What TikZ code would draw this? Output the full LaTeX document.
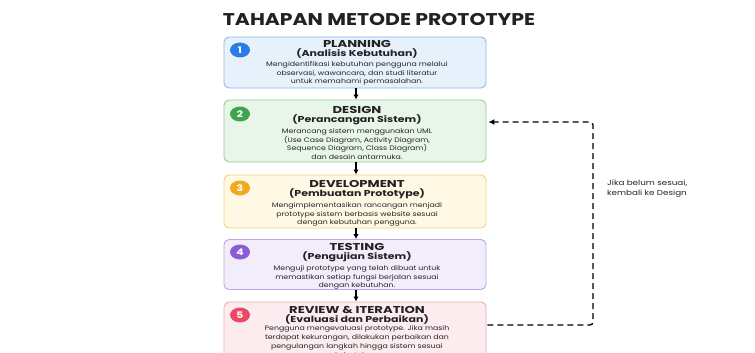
\documentclass[tikz,border=0pt]{standalone}
\usepackage{fontspec}
\usepackage{graphicx}
\setmainfont{Poppins}
\usetikzlibrary{arrows.meta,shapes.geometric}

\definecolor{blueFill}{HTML}{E6F1FC}\definecolor{blueLine}{HTML}{8DB8E8}\definecolor{blueDot}{HTML}{2A7BE4}
\definecolor{greenFill}{HTML}{E8F5E9}\definecolor{greenLine}{HTML}{95CF98}\definecolor{greenDot}{HTML}{3DA64A}
\definecolor{yellowFill}{HTML}{FFF8E4}\definecolor{yellowLine}{HTML}{F3D27D}\definecolor{yellowDot}{HTML}{F2A922}
\definecolor{purpleFill}{HTML}{F2ECFB}\definecolor{purpleLine}{HTML}{BCA7E6}\definecolor{purpleDot}{HTML}{8B5CD8}
\definecolor{pinkFill}{HTML}{FDECEF}\definecolor{pinkLine}{HTML}{F2A8B6}\definecolor{pinkDot}{HTML}{EA4A63}
\definecolor{inkText}{HTML}{222222}

% extended lettering: texts are set wider than the font's own widths
\newcommand\widetext[2][1.2]{\scalebox{#1}[1]{#2}}
\newcommand\widelines[1]{\scalebox{1.2}[1]{\begin{tabular}{@{}c@{}}#1\end{tabular}}}

\tikzset{
  stepbox/.style={draw, line width=0.9pt, rounded corners=5pt, minimum width=262pt, inner sep=0pt},
  badge/.style={ellipse, minimum width=20pt, minimum height=15pt, inner sep=0pt, text=white, font=\bfseries\fontsize{9}{9}\selectfont},
  head/.style={font=\bfseries\fontsize{10}{10}\selectfont, text=inkText, inner sep=0pt},
  sub/.style={font=\bfseries\fontsize{8.6}{9}\selectfont, text=inkText, inner sep=0pt},
  desc/.style={font=\fontsize{6.5}{8.8}\selectfont, text=inkText, inner sep=0pt, anchor=north},
  flow/.style={-{Latex[length=5pt,width=5.5pt]}, line width=1.1pt, black},
  loop/.style={dash pattern=on 6pt off 4pt, line width=1.3pt, black, rounded corners=3pt, -{Latex[length=6pt,width=6pt]}},
}

\begin{document}
\begin{tikzpicture}[x=1pt,y=-1pt]
\useasboundingbox (0,0) rectangle (755,353);
\fill[white] (0,0) rectangle (755,353);
\begin{scope}
\clip (0,0) rectangle (755,353);

% title
\node[font=\bfseries\fontsize{17}{17}\selectfont, text=inkText, inner sep=0pt] (title) at (379,20) {\widetext{TAHAPAN METODE PROTOTYPE}};

% step boxes
\node[stepbox, fill=blueFill, draw=blueLine, minimum height=51pt] (b1) at (355,62.5) {};
\node[stepbox, fill=greenFill, draw=greenLine, minimum height=62pt] (b2) at (355,131) {};
\node[stepbox, fill=yellowFill, draw=yellowLine, minimum height=53pt] (b3) at (355,201.5) {};
\node[stepbox, fill=purpleFill, draw=purpleLine, minimum height=50pt] (b4) at (355,264.5) {};
\node[stepbox, fill=pinkFill, draw=pinkLine, minimum height=66pt] (b5) at (355,335) {};

% numbered badges
\node[badge, fill=blueDot] (n1) at (240,50) {\widetext{1}};
\node[badge, fill=greenDot] (n2) at (240,114) {\widetext{2}};
\node[badge, fill=yellowDot] (n3) at (240,188) {\widetext{3}};
\node[badge, fill=purpleDot] (n4) at (240,252) {\widetext{4}};
\node[badge, fill=pinkDot] (n5) at (240,315) {\widetext{5}};

% step texts
\node[head] (h1) at (357,44) {\widetext[1.32]{PLANNING}};
\node[sub] (s1) at (357,53.5) {\widetext[1.28]{(Analisis Kebutuhan)}};
\node[desc] (d1) at (357,60) {\widelines{Mengidentifikasi kebutuhan pengguna melalui\\observasi, wawancara, dan studi literatur\\untuk memahami permasalahan.}};

\node[head] (h2) at (357,110) {\widetext[1.32]{DESIGN}};
\node[sub] (s2) at (357,120) {\widetext[1.28]{(Perancangan Sistem)}};
\node[desc] (d2) at (357,127) {\widelines{Merancang sistem menggunakan UML\\(Use Case Diagram, Activity Diagram,\\Sequence Diagram, Class Diagram)\\dan desain antarmuka.}};

\node[head] (h3) at (357,184) {\widetext[1.32]{DEVELOPMENT}};
\node[sub] (s3) at (357,194) {\widetext[1.28]{(Pembuatan Prototype)}};
\node[desc] (d3) at (357,201) {\widelines{Mengimplementasikan rancangan menjadi\\prototype sistem berbasis website sesuai\\dengan kebutuhan pengguna.}};

\node[head] (h4) at (357,247) {\widetext[1.32]{TESTING}};
\node[sub] (s4) at (357,257) {\widetext[1.28]{(Pengujian Sistem)}};
\node[desc] (d4) at (357,264) {\widelines{Menguji prototype yang telah dibuat untuk\\memastikan setiap fungsi berjalan sesuai\\dengan kebutuhan.}};

\node[head] (h5) at (357,310) {\widetext[1.32]{REVIEW \& ITERATION}};
\node[sub] (s5) at (357,319) {\widetext[1.28]{(Evaluasi dan Perbaikan)}};
\node[desc] (d5) at (357,324.5) {\widelines{Pengguna mengevaluasi prototype. Jika masih\\terdapat kekurangan, dilakukan perbaikan dan\\pengulangan langkah hingga sistem sesuai\\kebutuhan.}};

% flow arrows
\draw[flow] (b1.south -| 356,0) -- (b2.north -| 356,0);
\draw[flow] (b2.south -| 356,0) -- (b3.north -| 356,0);
\draw[flow] (b3.south -| 356,0) -- (b4.north -| 356,0);
\draw[flow] (b4.south -| 356,0) -- (b5.north -| 356,0);

% feedback loop
\coordinate (loopOut) at (b5.east |- 0,325);
\coordinate (loopIn) at (b2.east |- 0,122);
\draw[loop, shorten <=1pt, shorten >=2pt] (loopOut) -- (593,325) -- (593,122) -- (loopIn);
\node[font=\fontsize{7.3}{10}\selectfont, text=inkText, inner sep=0pt, anchor=west] (note) at (607,188) {\scalebox{1.2}[1]{\begin{tabular}{@{}l@{}}Jika belum sesuai,\\kembali ke Design\end{tabular}}};
\end{scope}
\end{tikzpicture}
\end{document}
